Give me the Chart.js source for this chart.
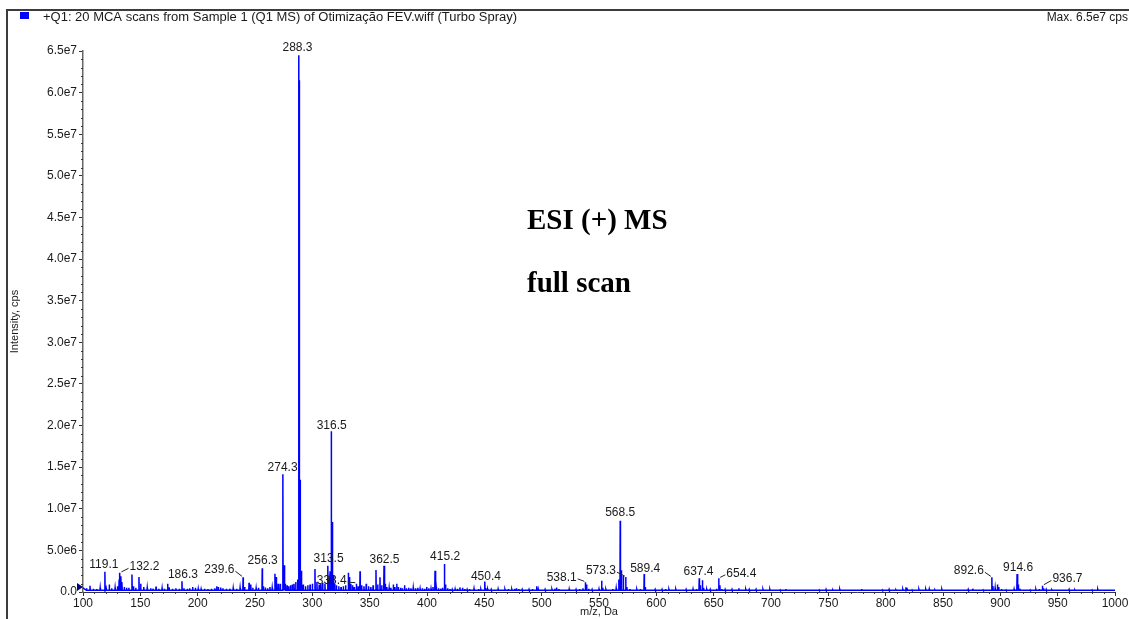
<!DOCTYPE html>
<html>
<head>
<meta charset="utf-8">
<script src="https://cdn.jsdelivr.net/npm/chart.js@4"></script>
<style>
  html, body { margin: 0; padding: 0; background: #ffffff; }
  canvas { display: block; }
</style>
</head>
<body>
<canvas id="c" width="1129" height="619"></canvas>
<script>
// ---- Spectrum data (m/z, intensity in cps) ----
const peakMz = [
  103.1, 106.1, 109.0, 112.0, 115.0, 119.1, 120.1, 122.9, 125.0, 128.0, 130.1, 131.5, 132.2, 133.1, 134.0,
  136.0, 138.0, 140.0, 142.7, 144.0, 146.0, 148.8, 150.3, 153.0, 156.0, 159.0, 161.0, 163.7, 166.0, 169.0,
  171.0, 173.8, 175.0, 178.0, 181.0, 184.0, 186.3, 188.0, 191.0, 193.0, 195.6, 198.0, 200.5, 203.0, 206.0,
  209.0, 212.0, 215.0, 216.6, 218.0, 220.0, 222.0, 225.0, 228.0, 231.0, 234.0, 237.0, 239.6, 241.0, 244.8,
  246.3, 248.0, 251.0, 253.0, 256.3, 257.3, 259.0, 261.0, 263.0, 265.0, 267.4, 268.6, 270.2, 272.0, 274.3,
  275.3, 276.3, 278.0, 279.5, 281.0, 282.5, 284.0, 285.5, 287.3, 288.3, 288.6, 289.3, 290.5, 292.0, 294.0,
  296.0, 298.0, 300.0, 302.3, 304.0, 306.0, 307.5, 309.0, 311.0, 313.5, 314.5, 315.5, 316.5, 317.5, 318.5,
  319.5, 321.0, 323.0, 325.0, 327.0, 329.0, 331.4, 332.4, 333.5, 335.0, 336.5, 338.4, 340.0, 341.6, 343.0,
  345.0, 347.0, 349.0, 351.0, 353.0, 355.5, 357.0, 359.0, 360.5, 362.5, 363.5, 365.0, 367.0, 368.5, 370.6,
  372.0, 373.6, 375.0, 377.0, 378.5, 380.4, 382.0, 384.0, 386.0, 388.0, 390.0, 392.0, 394.0, 396.0, 398.0,
  399.7, 401.5, 403.5, 405.2, 407.0, 408.0, 410.0, 412.0, 413.5, 415.2, 416.2, 418.0, 420.0, 422.0, 424.5,
  426.5, 428.7, 431.0, 433.0, 435.0, 437.0, 439.0, 441.0, 443.0, 445.0, 447.0, 450.4, 451.4, 453.0, 456.0,
  459.0, 462.0, 465.0, 468.0, 471.0, 474.0, 476.5, 478.0, 480.0, 483.0, 486.0, 489.0, 492.0, 495.6, 497.0,
  500.0, 503.0, 506.0, 509.0, 511.5, 513.0, 515.0, 518.0, 521.0, 524.0, 527.0, 530.0, 533.0, 536.0, 538.1,
  539.2, 541.0, 544.0, 547.0, 550.0, 552.3, 553.3, 556.0, 559.0, 562.0, 565.0, 567.2, 568.5, 569.5, 571.2,
  573.3, 574.3, 577.0, 580.0, 583.0, 586.0, 589.4, 590.4, 593.0, 596.0, 599.0, 602.0, 605.0, 608.0, 611.0,
  614.0, 617.0, 620.0, 623.0, 626.0, 629.0, 632.0, 635.0, 637.4, 638.4, 640.2, 641.2, 644.0, 647.0, 650.0,
  652.5, 654.4, 655.4, 657.0, 660.0, 663.0, 666.0, 669.0, 672.0, 675.0, 678.0, 681.0, 684.0, 687.0, 690.0,
  693.0, 696.0, 699.0, 703.0, 708.0, 713.0, 718.0, 724.0, 730.0, 736.0, 742.0, 748.0, 754.0, 760.0, 766.0,
  772.0, 779.0, 785.0, 791.0, 797.0, 803.0, 809.0, 815.0, 817.7, 818.7, 823.0, 829.0, 835.0, 838.0, 843.0,
  849.0, 855.0, 861.0, 867.0, 872.0, 876.0, 880.0, 885.0, 889.0, 892.6, 893.6, 895.5, 897.5, 898.6, 901.0,
  905.0, 909.0, 912.0, 914.6, 915.6, 917.0, 921.0, 926.0, 931.0, 934.0, 936.7, 937.7, 940.0, 945.0, 950.0,
  955.0, 960.0, 965.0, 970.0, 975.0, 980.0, 985.0, 990.0, 995.0
];
const peakIntensity = [
  4.5e5, 7.5e5, 4.0e5, 3.5e5, 5.0e5, 2.43e6, 5.0e5, 9.0e5, 4.5e5, 5.0e5, 7.0e5, 1.5e6, 2.3e6, 1.9e6, 1.2e6,
  6.0e5, 5.0e5, 5.0e5, 2.1e6, 7.0e5, 5.0e5, 1.8e6, 1.0e6, 6.0e5, 5.0e5, 4.5e5, 4.0e5, 6.5e5, 4.0e5, 4.5e5,
  4.0e5, 1.0e6, 5.5e5, 4.0e5, 4.5e5, 4.0e5, 1.3e6, 4.5e5, 4.0e5, 4.5e5, 6.0e5, 5.0e5, 4.0e5, 3.5e5, 4.0e5,
  3.5e5, 4.0e5, 4.5e5, 7.0e5, 6.0e5, 5.5e5, 4.5e5, 4.0e5, 4.0e5, 4.5e5, 4.0e5, 5.0e5, 1.76e6, 6.0e5, 1.1e6,
  9.0e5, 5.0e5, 4.5e5, 5.0e5, 2.85e6, 7.0e5, 5.5e5, 4.5e5, 6.0e5, 5.0e5, 2.2e6, 1.8e6, 1.0e6, 1.0e6, 1.415e7,
  3.2e6, 1.0e6, 8.0e5, 7.0e5, 8.0e5, 9.0e5, 1.0e6, 1.2e6, 1.5e6, 6.45e7, 6.15e7, 1.35e7, 2.55e6, 9.0e5, 7.0e5,
  8.0e5, 9.0e5, 1.0e6, 2.76e6, 1.2e6, 9.0e5, 1.0e6, 1.1e6, 1.0e6, 3.15e6, 1.5e6, 2.5e6, 1.93e7, 8.4e6, 2.0e6,
  1.0e6, 8.0e5, 7.0e5, 6.0e5, 7.0e5, 8.0e5, 2.3e6, 1.8e6, 1.0e6, 8.0e5, 6.0e5, 1.0e6, 7.0e5, 2.5e6, 8.0e5,
  7.0e5, 1.0e6, 7.0e5, 6.0e5, 8.0e5, 2.64e6, 9.0e5, 1.76e6, 8.0e5, 3.15e6, 1.0e6, 6.0e5, 5.0e5, 5.0e5, 9.0e5,
  6.0e5, 1.0e6, 6.0e5, 5.0e5, 4.5e5, 8.0e5, 4.5e5, 5.0e5, 4.5e5, 5.0e5, 4.5e5, 5.0e5, 4.0e5, 4.5e5, 4.0e5,
  6.0e5, 4.5e5, 4.0e5, 6.0e5, 2.56e6, 6.0e5, 4.5e5, 4.0e5, 5.0e5, 3.36e6, 9.0e5, 4.5e5, 3.5e5, 3.0e5, 3.5e5,
  4.0e5, 5.5e5, 5.0e5, 3.5e5, 3.0e5, 3.5e5, 3.0e5, 4.0e5, 3.0e5, 3.5e5, 3.0e5, 1.25e6, 4.5e5, 3.0e5, 3.0e5,
  3.0e5, 3.5e5, 3.0e5, 3.0e5, 3.5e5, 3.0e5, 4.0e5, 4.5e5, 3.5e5, 3.0e5, 3.0e5, 3.0e5, 3.5e5, 7.0e5, 3.5e5,
  3.0e5, 3.0e5, 3.0e5, 3.0e5, 4.0e5, 5.5e5, 3.5e5, 3.0e5, 3.0e5, 3.5e5, 3.0e5, 3.0e5, 3.5e5, 4.5e5, 1.16e6,
  9.0e5, 4.0e5, 3.0e5, 3.0e5, 3.5e5, 1.36e6, 5.0e5, 3.0e5, 3.0e5, 3.5e5, 4.5e5, 1.5e6, 8.55e6, 2.6e6, 1.95e6,
  1.8e6, 6.0e5, 3.5e5, 3.0e5, 3.0e5, 3.5e5, 2.16e6, 6.0e5, 3.0e5, 3.0e5, 3.0e5, 3.0e5, 3.0e5, 3.5e5, 3.0e5,
  3.0e5, 3.0e5, 3.0e5, 3.0e5, 3.0e5, 3.0e5, 3.5e5, 3.5e5, 1.64e6, 8.0e5, 1.4e6, 5.0e5, 3.0e5, 3.0e5, 3.0e5,
  4.0e5, 1.64e6, 8.0e5, 3.5e5, 3.0e5, 3.0e5, 3.0e5, 3.0e5, 4.5e5, 3.0e5, 3.0e5, 3.0e5, 3.0e5, 3.0e5, 3.0e5,
  3.0e5, 3.0e5, 3.0e5, 3.0e5, 2.5e5, 3.5e5, 2.5e5, 3.0e5, 2.5e5, 3.0e5, 2.5e5, 3.0e5, 2.5e5, 3.0e5, 2.5e5,
  3.0e5, 3.5e5, 2.5e5, 3.0e5, 2.5e5, 3.0e5, 2.5e5, 3.0e5, 5.6e5, 3.5e5, 2.5e5, 3.0e5, 3.0e5, 3.5e5, 2.5e5,
  3.0e5, 2.5e5, 3.0e5, 2.5e5, 3.0e5, 4.0e5, 3.0e5, 2.5e5, 3.0e5, 1.76e6, 7.0e5, 5.0e5, 9.0e5, 6.0e5, 3.5e5,
  2.5e5, 3.0e5, 3.5e5, 2.16e6, 9.0e5, 4.0e5, 3.0e5, 2.5e5, 3.0e5, 3.5e5, 7.6e5, 4.5e5, 3.0e5, 2.5e5, 3.0e5,
  2.5e5, 3.0e5, 2.5e5, 3.0e5, 3.0e5, 2.5e5, 3.0e5, 2.5e5, 3.0e5
];
// noise floor between the sticks
const baseLevel = 2.0e5;

// m/z values printed above their peaks
const labeledMz = [119.1, 132.2, 186.3, 239.6, 256.3, 274.3, 288.3, 313.5, 316.5, 338.4, 362.5,
                   415.2, 450.4, 538.1, 568.5, 573.3, 589.4, 637.4, 654.4, 892.6, 914.6, 936.7];

// axis ticks
const xTickValues = [100, 150, 200, 250, 300, 350, 400, 450, 500, 550, 600, 650, 700, 750, 800, 850, 900, 950, 1000];
const yTickValues = [0, 5e6, 1e7, 1.5e7, 2e7, 2.5e7, 3e7, 3.5e7, 4e7, 4.5e7, 5e7, 5.5e7, 6e7, 6.5e7];
const yTickLabels = ['0.0', '5.0e6', '1.0e7', '1.5e7', '2.0e7', '2.5e7', '3.0e7', '3.5e7', '4.0e7',
                     '4.5e7', '5.0e7', '5.5e7', '6.0e7', '6.5e7'];

// header texts
const headerTitle = '+Q1: 20 MCA scans from Sample 1 (Q1 MS) of Otimização FEV.wiff (Turbo Spray)';
const headerMax = 'Max. 6.5e7 cps';
const noteLines = ['ESI (+) MS', 'full scan'];

// ---- label placement (pixel offsets of the label centre from the peak top) ----
const labelOffsets = {
  '119.1': [-1, -7], '132.2': [24.6, -6], '186.3': [1, -6.5], '239.6': [-23.7, -7.6],
  '256.3': [0.4, -7.5], '274.3': [-0.3, -7], '288.3': [-1.4, -7], '313.5': [0.8, -6.7],
  '316.5': [0.4, -6], '338.4': [-24.6, -3], '362.5': [0.5, -6], '415.2': [0.7, -7.7],
  '450.4': [1.1, -5.3], '538.1': [-23.7, -5], '568.5': [0, -7.7], '573.3': [-24.8, -6.3],
  '589.4': [1, -5.7], '637.4': [-0.7, -7], '654.4': [22.6, -5], '892.6': [-23, -6.6],
  '914.6': [1, -6.7], '936.7': [25, -6.7]
};

// Build a stick profile: each centroid becomes a narrow spike on the noise floor
const halfWidth = 0.22;
const profile = [{ x: 100, y: 5.0e5 }];
peakMz.forEach((mz, i) => {
  profile.push({ x: mz - halfWidth, y: baseLevel });
  profile.push({ x: mz, y: peakIntensity[i] });
  profile.push({ x: mz + halfWidth, y: baseLevel });
});
profile.push({ x: 1000, y: baseLevel });

const SANS = '"Liberation Sans", Arial, sans-serif';
const SERIF = '"Liberation Serif", "Times New Roman", serif';

const decorations = {
  id: 'decorations',
  afterDraw(chart) {
    const { ctx, chartArea, scales } = chart;
    const xs = scales.x, ys = scales.y;
    ctx.save();

    // outer frame
    ctx.strokeStyle = '#3c3c3c';
    ctx.lineWidth = 2;
    ctx.beginPath();
    ctx.moveTo(7, 630);
    ctx.lineTo(7, 10);
    ctx.lineTo(1140, 10);
    ctx.stroke();

    // header: legend swatch, title and maximum
    ctx.fillStyle = '#0000ff';
    ctx.fillRect(20, 12, 9, 7);
    ctx.fillStyle = '#1a1a1a';
    ctx.font = '12px ' + SANS;
    ctx.textBaseline = 'middle';
    ctx.textAlign = 'left';
    const tw = ctx.measureText(headerTitle).width;
    ctx.save();
    ctx.translate(43, 17.5);
    ctx.scale(474 / tw, 1);
    ctx.fillText(headerTitle, 0, 0);
    ctx.restore();
    ctx.textAlign = 'right';
    ctx.fillText(headerMax, 1128, 17.5);

    // annotation block
    ctx.fillStyle = '#000000';
    ctx.font = 'bold 29px ' + SERIF;
    ctx.textAlign = 'left';
    ctx.textBaseline = 'alphabetic';
    ctx.fillText(noteLines[0], 527, 229);
    ctx.fillText(noteLines[1], 527, 292);

    // minor ticks
    ctx.strokeStyle = '#333333';
    ctx.lineWidth = 1;
    ctx.beginPath();
    for (let v = 1e6; v < 6.5e7; v += 1e6) {
      if (v % 5e6 === 0) continue;
      const py = Math.round(ys.getPixelForValue(v)) + 0.5;
      ctx.moveTo(chartArea.left - 2, py);
      ctx.lineTo(chartArea.left, py);
    }
    for (let v = 110; v < 1000; v += 10) {
      if (v % 50 === 0) continue;
      const px = Math.round(xs.getPixelForValue(v)) + 0.5;
      ctx.moveTo(px, chartArea.bottom);
      ctx.lineTo(px, chartArea.bottom + 2);
    }
    ctx.stroke();

    // baseline marker at the origin
    const y0 = ys.getPixelForValue(0);
    ctx.fillStyle = '#000080';
    ctx.beginPath();
    ctx.moveTo(chartArea.left - 6, y0 - 9);
    ctx.lineTo(chartArea.left, y0 - 5);
    ctx.lineTo(chartArea.left - 6, y0 - 1);
    ctx.closePath();
    ctx.fill();

    // peak labels with leader lines
    ctx.font = '12px ' + SANS;
    ctx.textAlign = 'center';
    ctx.textBaseline = 'middle';
    labeledMz.forEach(mz => {
      const idx = peakMz.indexOf(mz);
      const text = mz.toFixed(1);
      const px = xs.getPixelForValue(mz);
      const py = ys.getPixelForValue(peakIntensity[idx]);
      const [dx, dy] = labelOffsets[text];
      const cx = px + dx, cy = py + dy;
      ctx.fillStyle = '#1a1a1a';
      ctx.fillText(text, cx, cy);
      if (Math.abs(dx) > 10) {
        const hw = ctx.measureText(text).width / 2;
        ctx.strokeStyle = '#222222';
        ctx.lineWidth = 1;
        ctx.beginPath();
        if (dx < 0) {
          ctx.moveTo(cx + hw + 1, cy + 1.5);
          ctx.lineTo(px - 1, py - 1);
        } else {
          ctx.moveTo(px + 1.5, py - 1);
          ctx.lineTo(cx - hw - 1, cy + 1.5);
        }
        ctx.stroke();
      }
    });
    ctx.restore();
  }
};

new Chart(document.getElementById('c'), {
  type: 'line',
  data: {
    datasets: [{
      data: profile,
      borderColor: '#0000ff',
      borderWidth: 1.5,
      pointRadius: 0,
      tension: 0,
      fill: false
    }]
  },
  options: {
    responsive: false,
    animation: false,
    devicePixelRatio: 1,
    parsing: false,
    normalized: true,
    layout: { padding: { top: 51, right: 14, left: 0, bottom: 0 } },
    plugins: { legend: { display: false }, tooltip: { enabled: false }, title: { display: false } },
    scales: {
      x: {
        type: 'linear',
        min: 100,
        max: 1000,
        afterFit(scale) { scale.height = 27; },
        afterBuildTicks(scale) { scale.ticks = xTickValues.map(v => ({ value: v })); },
        ticks: {
          autoSkip: false, maxRotation: 0, padding: 0,
          color: '#1a1a1a', font: { family: SANS, size: 12 },
          callback: (v) => String(v)
        },
        grid: { display: true, drawOnChartArea: false, drawTicks: true, tickLength: 4, color: '#333333' },
        border: { display: true, color: '#333333', width: 1 },
        title: { display: true, text: 'm/z, Da', color: '#1a1a1a', font: { family: SANS, size: 11 }, padding: { top: 0, bottom: 0 } }
      },
      y: {
        type: 'linear',
        min: 0,
        max: 6.5e7,
        afterFit(scale) { scale.width = 83; },
        afterBuildTicks(scale) { scale.ticks = yTickValues.map(v => ({ value: v })); },
        ticks: {
          autoSkip: false, padding: 2,
          color: '#1a1a1a', font: { family: SANS, size: 12 },
          callback: (v, i) => yTickLabels[i]
        },
        grid: { display: true, drawOnChartArea: false, drawTicks: true, tickLength: 4, color: '#333333' },
        border: { display: true, color: '#666666', width: 1.5 },
        title: { display: true, text: 'Intensity, cps', color: '#1a1a1a', font: { family: SANS, size: 11 }, padding: { top: 8, bottom: 0 } }
      }
    }
  },
  plugins: [decorations]
});
</script>
</body>
</html>
